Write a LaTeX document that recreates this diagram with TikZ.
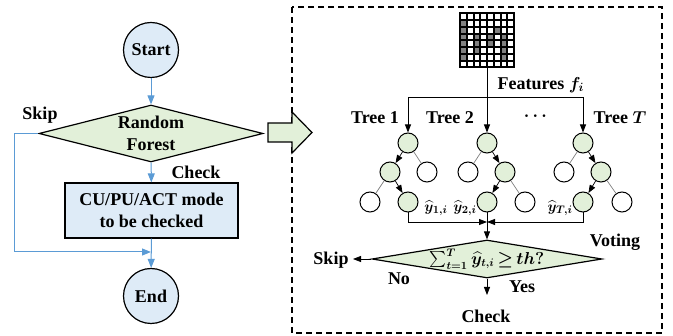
\documentclass[tikz,border=0pt]{standalone}
\usepackage{amsmath}
\usepackage{amssymb}
\usepackage{fontspec}
\setmainfont{Liberation Serif}
\usetikzlibrary{arrows.meta,shapes.geometric}

\definecolor{fillblue}{HTML}{DEEBF7}
\definecolor{fillgreen}{HTML}{E2F0D9}
\definecolor{lineblue}{HTML}{5B9BD5}

\tikzset{
  txt/.style={font=\fontsize{18}{22}\selectfont\bfseries\boldmath},
  mathtxt/.style={font=\fontsize{15}{18}\selectfont\boldmath,inner sep=0pt},
  term/.style={circle,draw,line width=1.2pt,fill=fillblue,minimum size=55pt,inner sep=0pt,txt},
  proc/.style={rectangle,draw,line width=1.2pt,fill=fillblue,minimum width=173pt,minimum height=55pt,txt,align=center},
  decide/.style={diamond,draw,line width=1.2pt,fill=fillgreen,inner sep=0pt},
  leaf/.style={circle,draw,line width=1pt,minimum size=20pt,inner sep=0pt},
  hit/.style={leaf,fill=fillgreen},
  flow/.style={draw=lineblue,line width=1pt,-{Triangle[length=9pt,width=7pt]},lineblue},
  pick/.style={->,line width=0.7pt},
  passby/.style={draw=gray,line width=0.7pt},
}

\begin{document}
\begin{tikzpicture}[x=1pt,y=-1pt,>={Triangle[length=8pt,width=6pt]},line width=0.8pt]
  \useasboundingbox (0,0) rectangle (673,336);

  % flow chart on the left
  \node[term]  (start) at (151,50)      {Start};
  \node[decide,minimum width=224pt,minimum height=57pt] (rf) at (151,133.5) {};
  \node[txt,align=center] (rftxt) at (rf) {Random\\Forest};
  \node[proc]  (mode)  at (151.5,210.5) {CU/PU/ACT mode\\to be checked};
  \node[term]  (end)   at (151,296)     {End};
  \coordinate  (skipin) at (151,252);
  \node[txt]   (skipa) at (40,115)      {Skip};
  \node[txt]   (checka) at (196,172)    {Check};

  \draw[flow] (start) -- (rf);
  \draw[flow] (rf) -- (mode);
  \draw[flow] (mode) -- (end);
  \draw[flow] (rf.west) -- ++(-24,0) |- (skipin);

  % detail of the random forest
  \draw[line width=1.2pt,dash pattern=on 6pt off 4pt] (292,7) rectangle (662,333);
  \draw[line width=1.2pt,fill=fillgreen] (268,123) -- (292,123) -- (292,112) -- (312,132.5)
    -- (292,153) -- (292,142) -- (268,142) -- cycle;

  % input block
  \node[draw,fill=white,line width=2pt,minimum size=54pt,inner sep=0pt] (img) at (487,40.5) {};
  \foreach \r/\c in {2/1,3/1,3/6,4/1,4/3,4/5,4/7,5/1,5/3,5/5,5/7,6/1,6/3,6/7,7/1,7/7}
    \fill[gray] ({460+(\c-1)*6.75},{13.5+(\r-1)*6.75}) rectangle ++(6.75,6.75);
  \foreach \k in {1,...,7} {
    \draw[line width=2pt] ({460+\k*6.75},13.5) -- ++(0,54);
    \draw[line width=2pt] (460,{13.5+\k*6.75}) -- ++(54,0);
  }
  \node[draw,line width=2pt,minimum size=54pt,inner sep=0pt] at (img) {};

  \node[txt,anchor=west] (feat) at (494,85) {Features $f_i$};
  \node[txt] (lab1) at (375,118) {Tree 1};
  \node[txt] (lab2) at (450,118) {Tree 2};
  \node[txt] (labd) at (537,116) {$\cdots$};
  \node[txt] (labT) at (620,118) {Tree $T$};

  % trees
  \node[hit]  (t1)  at (408,143) {};
  \node[hit]  (t1a) at (390,172) {};
  \node[leaf] (t1b) at (427,172) {};
  \node[leaf] (t1c) at (370,202) {};
  \node[hit]  (t1d) at (408,202) {};

  \node[hit]  (t2)  at (487,143) {};
  \node[leaf] (t2a) at (468,172) {};
  \node[hit]  (t2b) at (505,172) {};
  \node[hit]  (t2c) at (487,202) {};
  \node[leaf] (t2d) at (525,202) {};

  \node[hit]  (tT)  at (583,143) {};
  \node[leaf] (tTa) at (564,172) {};
  \node[hit]  (tTb) at (601,172) {};
  \node[hit]  (tTc) at (583,202) {};
  \node[leaf] (tTd) at (622,202) {};

  \coordinate (split) at (487,97);
  \draw[->] (img) -- (t2);
  \draw[->] (split) -| (t1);
  \draw[->] (split) -| (tT);

  \path[pick]
        (t1)  edge (t1a)
        (t1a) edge (t1d)
        (t2)  edge (t2b)
        (t2b) edge (t2c)
        (tT)  edge (tTb)
        (tTb) edge (tTc);
  \path[passby]
        (t1)  edge (t1b)
        (t1a) edge (t1c)
        (t2)  edge (t2a)
        (t2b) edge (t2d)
        (tT)  edge (tTa)
        (tTb) edge (tTd);

  \node[mathtxt] (y1) at (436,208) {$\widehat{y}_{1,i}$};
  \node[mathtxt] (y2) at (465,208) {$\widehat{y}_{2,i}$};
  \node[mathtxt] (yT) at (560,208) {$\widehat{y}_{T,i}$};

  % voting
  \node[decide,minimum width=230pt,minimum height=38pt] (vote) at (487,259) {};
  \node[mathtxt,font=\fontsize{16}{18}\selectfont\boldmath] (votetxt) at (487,259)
    {$\sum_{t=1}^{T}\widehat{y}_{t,i}\mkern-2mu\geq\mkern-2mu th?$};
  \coordinate (merge) at (487,222);
  \coordinate (skipout) at (353,259);
  \coordinate (checkout) at (487,295);

  \draw[->] (t1d) |- (merge);
  \draw[->] (tTc) |- (merge);
  \draw[->] (t2c) -- (vote);
  \draw[->] (vote.west) -- (skipout);
  \draw[->] (vote.south) -- (checkout);

  \node[txt] (skipb)  at (331,260) {Skip};
  \node[txt] (nob)    at (399,279) {No};
  \node[txt] (voting) at (615,242) {Voting};
  \node[txt] (yesb)   at (522,287) {Yes};
  \node[txt] (checkb) at (486,316) {Check};
\end{tikzpicture}
\end{document}
